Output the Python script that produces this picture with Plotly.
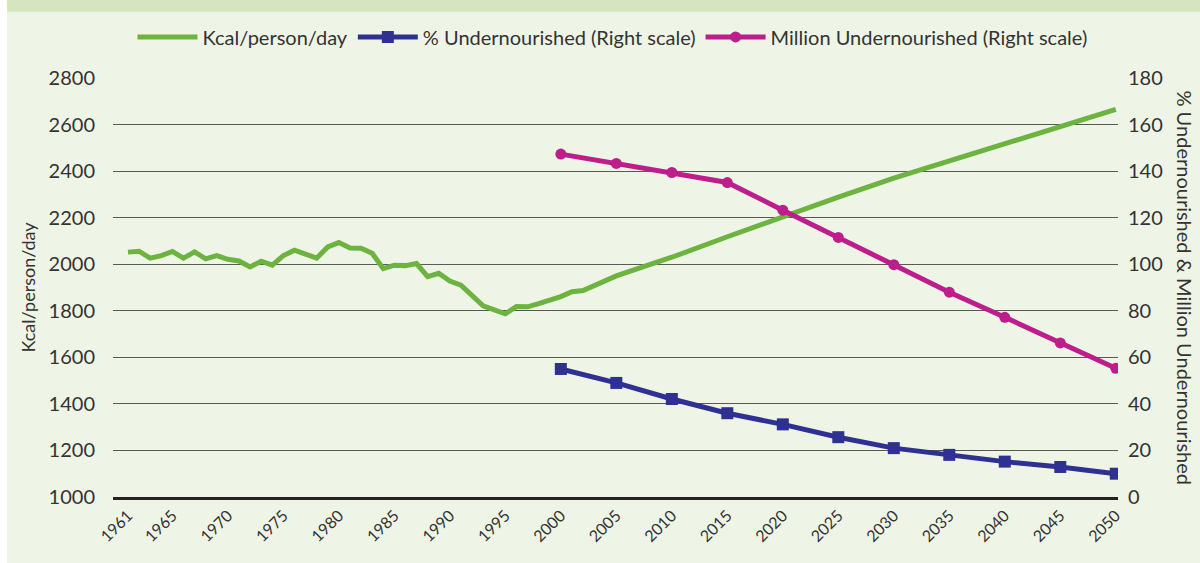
import plotly.graph_objects as go

# ---- data ----
kcal_years = list(range(1961, 2003)) + [2005, 2010, 2015, 2020, 2025, 2030, 2035, 2040, 2045, 2050]
kcal_values = [2052, 2056, 2026, 2037, 2055, 2026, 2053, 2023, 2037, 2021,
               2014, 1988, 2013, 1996, 2037, 2060, 2043, 2026, 2074, 2093,
               2070, 2069, 2047, 1981, 1996, 1994, 2003, 1947, 1961, 1928,
               1910, 1867, 1821, 1804, 1787, 1818, 1817, 1831, 1844, 1861,
               1882, 1887,
               1950, 2030, 2118, 2205, 2288, 2370, 2445, 2520, 2593, 2665]

proj_years = [2000, 2005, 2010, 2015, 2020, 2025, 2030, 2035, 2040, 2045, 2050]
pct_under = [55.0, 49.0, 42.1, 36.0, 31.2, 25.7, 21.0, 18.1, 15.2, 12.9, 10.0]
mil_under = [147.3, 143.3, 139.4, 135.1, 123.2, 111.5, 99.8, 88.0, 77.2, 66.2, 55.3]

x_ticks = [1961, 1965, 1970, 1975, 1980, 1985, 1990, 1995, 2000, 2005,
           2010, 2015, 2020, 2025, 2030, 2035, 2040, 2045, 2050]
left_ticks = [1000, 1200, 1400, 1600, 1800, 2000, 2200, 2400, 2600, 2800]
right_ticks = [0, 20, 40, 60, 80, 100, 120, 140, 160, 180]

GREEN = "#6DB33F"
NAVY = "#2E3192"
MAGENTA = "#BD1E8C"
BG = "#EFF5E6"
TXT = "#333333"
FONT = "Lato"

fig = go.Figure()
fig.add_trace(go.Scatter(x=kcal_years, y=kcal_values, mode="lines",
                         name="Kcal/person/day",
                         line=dict(color=GREEN, width=5)))
fig.add_trace(go.Scatter(x=proj_years, y=pct_under, mode="lines+markers",
                         name="% Undernourished (Right scale)", yaxis="y2",
                         line=dict(color=NAVY, width=5),
                         marker=dict(symbol="square", size=12, color=NAVY)))
fig.add_trace(go.Scatter(x=proj_years, y=mil_under, mode="lines+markers",
                         name="Million Undernourished (Right scale)", yaxis="y2",
                         line=dict(color=MAGENTA, width=5),
                         marker=dict(symbol="circle", size=11, color=MAGENTA)))

fig.update_layout(
    width=1200, height=563,
    margin=dict(l=113, r=82, t=78, b=66, autoexpand=False),
    paper_bgcolor=BG, plot_bgcolor=BG,
    font=dict(family=FONT, color=TXT, size=17),
    showlegend=True,
    legend=dict(orientation="h", x=0.497, xanchor="center", y=1.098, yanchor="middle",
                font=dict(size=20, color=TXT), bgcolor="rgba(0,0,0,0)",
                itemwidth=60, tracegroupgap=0),
    xaxis=dict(range=[1959.65, 2050.2], tickmode="array", tickvals=x_ticks,
               ticktext=[str(v) for v in x_ticks], tickangle=-45, automargin=False,
               tickfont=dict(size=16, color=TXT), showgrid=False, zeroline=False,
               showline=True, linecolor="#222222", linewidth=3, ticks=""),
    yaxis=dict(range=[1000, 2800], tickmode="array", tickvals=left_ticks, automargin=False,
               tickfont=dict(size=20, color=TXT), showgrid=True, gridcolor="#5a5a55",
               gridwidth=1, zeroline=False, ticks="outside", ticklen=13,
               tickcolor="rgba(0,0,0,0)",
               title=dict(text="Kcal/person/day", font=dict(size=18, color=TXT), standoff=8)),
    yaxis2=dict(range=[0, 180], tickmode="array", tickvals=right_ticks, overlaying="y",
                side="right", showgrid=False, zeroline=False, automargin=False,
                ticks="outside", ticklen=5, tickcolor="rgba(0,0,0,0)",
                tickfont=dict(size=20, color=TXT)),
)

# right-axis title, reading top to bottom
fig.add_annotation(text="% Undernourished & Million Undernourished", textangle=90,
                   xref="paper", yref="paper", x=1.0667, y=0.5,
                   xanchor="center", yanchor="middle", showarrow=False,
                   font=dict(size=20, color=TXT, family=FONT))

# top banner band and left white strip
fig.add_shape(type="rect", xref="paper", yref="paper", x0=-0.12, x1=1.09,
              y0=1.158, y1=1.2, fillcolor="#D7E5BE", line=dict(width=0), layer="below")
fig.add_shape(type="rect", xref="paper", yref="paper", x0=-0.12, x1=-0.1055,
              y0=-0.2, y1=1.2, fillcolor="#FFFFFF", line=dict(width=0), layer="below")

fig.write_html("out.html", config={"displayModeBar": False},
               post_script="document.body.style.margin='0';")
